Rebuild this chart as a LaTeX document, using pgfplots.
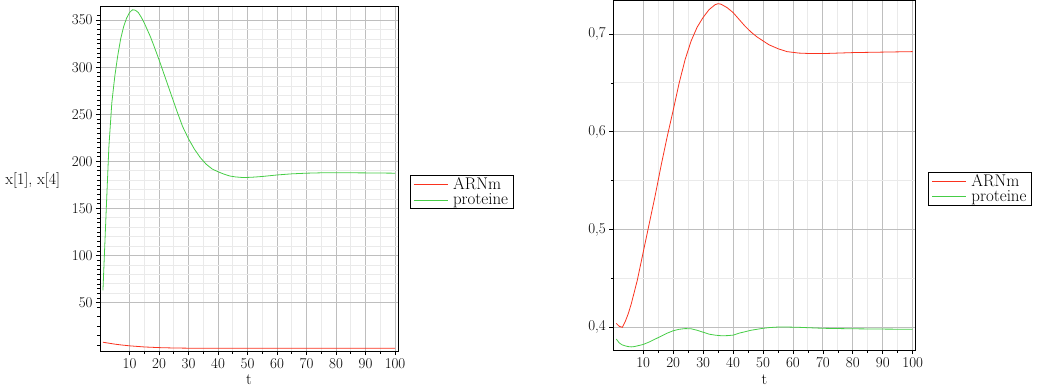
\documentclass[border=0pt]{standalone}
\usepackage{pgfplots}
\pgfplotsset{compat=1.18}
\definecolor{cred}{RGB}{250,50,30}
\definecolor{cgreen}{RGB}{70,205,70}
\definecolor{gmaj}{RGB}{190,190,190}
\definecolor{gmin}{RGB}{234,234,234}
\pgfplotsset{
 mystyle/.style={
  scale only axis, xmin=0, xmax=101,
  axis line style={black, line width=1bp},
  tick align=outside, tick pos=left,
  major tick length=4bp, minor tick length=2.5bp,
  every tick/.style={black, line width=0.7bp},
  grid=both,
  major grid style={gmaj, line width=0.9bp},
  minor grid style={gmin, line width=0.9bp},
  xtick={10,20,...,100}, minor x tick num=1,
  /pgf/number format/assume math mode=true,
  tick label style={font=\fontsize{15}{18}\selectfont},
  every axis x label/.style={at={(axis description cs:0.5,-0.098)}, anchor=base, font=\fontsize{16}{18}\selectfont},
  legend style={draw=black, line width=0.7bp, font=\fontsize{17}{19}\selectfont, anchor=north west, inner xsep=3bp, inner ysep=2bp, row sep=1.5bp,
    nodes={inner ysep=0.5bp},
    /tikz/every odd column/.append style={column sep=3bp}},
  legend cell align=left,
  legend image code/.code={\draw[#1, line width=0.8bp] (0bp,0bp) -- (34bp,0bp);},
 }
}
\pgfplotstableread{
t v
1 63
2 140
3 215
4 262
5 290
6 312
7 330
8 343
9 352
10 358
11 361
12 360.5
13 358
14 353
15 347
16 340
17 333
18 325
20 308
22 290
24 272
26 254
28 237
30 224
32 213
34 204
36 197
38 192
40 189
42 186.5
44 184.5
46 183.5
48 183
50 183
52 183.3
55 184
60 185.6
65 186.8
70 187.5
75 187.9
80 188
90 187.8
100 187.5
}\leftgreen
\pgfplotstableread{
t v
1 8
3 7
5 6
7 5.2
10 4.2
15 3
20 2.3
25 1.9
30 1.7
40 1.6
60 1.6
100 1.6
}\leftred
\pgfplotstableread{
t v
1 0.404
2 0.401
3 0.400
4 0.406
5 0.414
6 0.424
8 0.448
10 0.477
12 0.506
14 0.535
16 0.566
18 0.595
20 0.622
22 0.650
24 0.674
26 0.693
28 0.707
30 0.717
32 0.725
34 0.730
35 0.731
36 0.7305
38 0.727
40 0.722
42 0.715
44 0.708
46 0.702
48 0.697
50 0.693
52 0.689
55 0.685
58 0.682
62 0.6805
66 0.680
70 0.680
80 0.681
90 0.6815
100 0.682
}\rightred
\pgfplotstableread{
t v
1 0.388
2 0.384
3 0.382
4 0.381
5 0.3803
6 0.3800
7 0.3803
8 0.381
10 0.3825
12 0.385
14 0.388
16 0.391
18 0.394
20 0.3965
22 0.398
24 0.3987
26 0.3985
28 0.397
30 0.395
32 0.393
34 0.392
36 0.3914
38 0.3915
40 0.392
42 0.394
44 0.3955
46 0.397
48 0.398
50 0.399
52 0.3997
55 0.4003
58 0.4003
62 0.400
66 0.3995
70 0.399
80 0.3985
90 0.3982
100 0.398
}\rightgreen
\begin{document}
\begin{tikzpicture}
\useasboundingbox (0,0) rectangle (1040bp,-387bp);
\begin{axis}[mystyle,
  at={(100bp,-6bp)}, anchor=north west,
  width=298bp, height=345bp,
  ymin=-1.3, ymax=365,
  ytick={50,100,...,350}, minor y tick num=4,
  extra y ticks={5,15,...,355},
  extra y tick style={grid=none, major tick length=2.5bp, yticklabel={}},
  xlabel={t},
  ylabel={x[1], x[4]},
  every axis y label/.style={at={(axis description cs:-0.122,0.493)}, anchor=east, font=\fontsize{16}{18}\selectfont},
  legend style={at={(axis description cs:1.040,0.510)}},
]
\addplot[cred, line width=0.8bp] table[x=t,y=v] {\leftred};
\addlegendentry{ARNm}
\addplot[cgreen, line width=0.8bp] table[x=t,y=v] {\leftgreen};
\addlegendentry{proteine}
\end{axis}
\begin{axis}[mystyle,
  at={(613.3bp,0bp)}, anchor=north west,
  width=302.4bp, height=350bp,
  ymin=0.3768, ymax=0.7348,
  ytick={0.4,0.5,0.6,0.7}, minor y tick num=1,
  yticklabel style={/pgf/number format/.cd, use comma, fixed, precision=1},
  xlabel={t},
  legend style={at={(axis description cs:1.0417,0.509)}},
]
\addplot[cred, line width=0.8bp] table[x=t,y=v] {\rightred};
\addlegendentry{ARNm}
\addplot[cgreen, line width=0.8bp] table[x=t,y=v] {\rightgreen};
\addlegendentry{proteine}
\end{axis}
\end{tikzpicture}
\end{document}
